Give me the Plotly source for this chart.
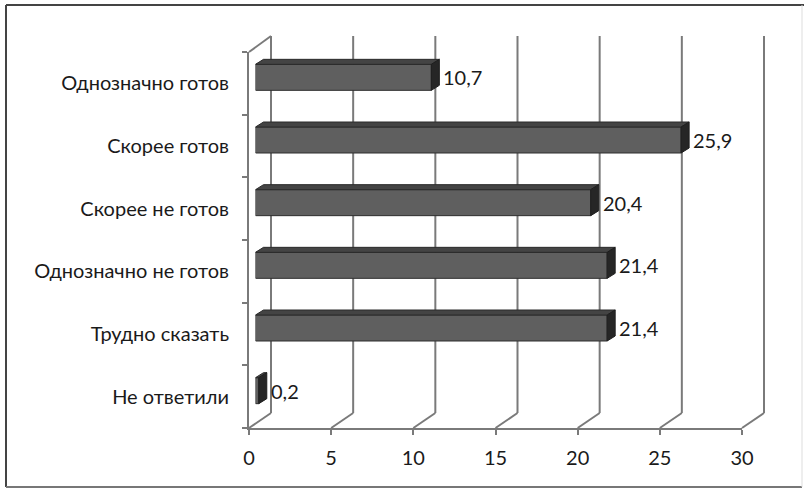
import plotly.graph_objects as go

# ---- data ----
categories = ["Не ответили", "Трудно сказать", "Однозначно не готов",
              "Скорее не готов", "Скорее готов", "Однозначно готов"]
values = [0.2, 21.4, 21.4, 20.4, 25.9, 10.7]
value_labels = ["0,2", "21,4", "21,4", "20,4", "25,9", "10,7"]
x_ticks = [0, 5, 10, 15, 20, 25, 30]
x_tick_labels = ["0", "5", "10", "15", "20", "25", "30"]

# ---- geometry (pixels) ----
W, H = 804, 488
XMAX = 30
FX0, FX1 = 249, 742          # front plane x for 0 and XMAX
FY0, FY1 = 428, 52           # front plane bottom / top
DX, DY = 22, 15              # depth offset of back wall
BDX, BDY = 6.5, 6            # offset of bar front faces
TDX, TDY = 8, 5              # bar thickness (3D faces)
BAR_W = 0.415
BACK_TOP = 36

def fx(p):
    return p / W

def fy(p):
    return 1 - p / H

def front_px(v):
    return FX0 + (FX1 - FX0) * v / XMAX

px_per_unit = (FX1 - FX0) / XMAX
px_per_cat = (FY0 - FY1) / len(categories)

FONT = "Lato, Calibri, Arial, sans-serif"
FS = 20
GRID = "#7a7a7a"

fig = go.Figure()

idx = list(range(len(categories)))
fig.add_trace(go.Bar(
    x=values, y=idx, orientation="h", width=BAR_W,
    marker=dict(color="#5f5f5f", line=dict(color="#2e2e2e", width=1)),
    xaxis="x2", yaxis="y2", hoverinfo="skip", showlegend=False,
))

# invisible trace to hold category axis
fig.add_trace(go.Scatter(x=[0] * len(categories), y=categories, mode="markers",
                         marker=dict(opacity=0), xaxis="x", yaxis="y",
                         hoverinfo="skip", showlegend=False))

shapes = []
# back wall gridlines + floor diagonals
for v in x_ticks:
    xf = front_px(v)
    xb = xf + DX
    shapes.append(dict(type="line", xref="paper", yref="paper",
                       x0=fx(xb), x1=fx(xb), y0=fy(FY0 - DY), y1=fy(BACK_TOP),
                       line=dict(color=GRID, width=2), layer="below"))
    shapes.append(dict(type="line", xref="paper", yref="paper",
                       x0=fx(xf), x1=fx(xb), y0=fy(FY0), y1=fy(FY0 - DY),
                       line=dict(color=GRID, width=2), layer="below"))
# left wall top diagonal
shapes.append(dict(type="line", xref="paper", yref="paper",
                   x0=fx(FX0), x1=fx(FX0 + DX), y0=fy(FY1), y1=fy(BACK_TOP),
                   line=dict(color=GRID, width=2), layer="below"))

# 3D faces of bars
dxu = TDX / px_per_unit
dyu = TDY / px_per_cat
for i, v in enumerate(values):
    yt = i + BAR_W / 2
    yb = i - BAR_W / 2
    shapes.append(dict(type="path", xref="x2", yref="y2",
                       path=f"M 0,{yt} L {v},{yt} L {v+dxu},{yt+dyu} L {dxu},{yt+dyu} Z",
                       fillcolor="#444444", line=dict(color="#2a2a2a", width=1)))
    shapes.append(dict(type="path", xref="x2", yref="y2",
                       path=f"M {v},{yt} L {v+dxu},{yt+dyu} L {v+dxu},{yb+dyu} L {v},{yb} Z",
                       fillcolor="#262626", line=dict(color="#1e1e1e", width=1)))

# outer frame
shapes.append(dict(type="line", xref="paper", yref="paper", x0=fx(6), x1=1, y0=fy(5), y1=fy(5),
                   line=dict(color="#444444", width=2)))
shapes.append(dict(type="line", xref="paper", yref="paper", x0=fx(6), x1=fx(6), y0=fy(5), y1=fy(487),
                   line=dict(color="#444444", width=2)))
shapes.append(dict(type="line", xref="paper", yref="paper", x0=fx(6), x1=fx(802), y0=fy(487), y1=fy(487),
                   line=dict(color="#777777", width=2)))
shapes.append(dict(type="line", xref="paper", yref="paper", x0=fx(802), x1=fx(802), y0=fy(5), y1=fy(487),
                   line=dict(color="#dddddd", width=1)))

annotations = []
for i, (v, lab) in enumerate(zip(values, value_labels)):
    annotations.append(dict(x=v, y=i, xref="x2", yref="y2", text=lab, showarrow=False,
                            xanchor="left", yanchor="middle", xshift=TDX + 2,
                            font=dict(family=FONT, size=FS, color="#1a1a1a")))

fig.update_layout(
    width=W, height=H, autosize=False,
    margin=dict(l=0, r=0, t=0, b=0, pad=0),
    paper_bgcolor="white", plot_bgcolor="rgba(0,0,0,0)",
    showlegend=False,
    shapes=shapes, annotations=annotations,
    xaxis=dict(domain=[fx(FX0), fx(FX1)], range=[0, XMAX], tickvals=x_ticks,
               ticktext=x_tick_labels, showline=True, linecolor=GRID, linewidth=2,
               ticks="outside", ticklen=5, tickwidth=2, tickcolor=GRID,
               showgrid=False, zeroline=False, anchor="y", ticklabelstandoff=6,
               automargin=False,
               tickfont=dict(family=FONT, size=FS, color="#1a1a1a")),
    yaxis=dict(domain=[fy(FY0), fy(FY1)], type="category", categoryorder="array",
               categoryarray=categories, range=[-0.5, len(categories) - 0.5],
               showline=True, linecolor=GRID, linewidth=2, ticks="outside",
               tickson="boundaries", ticklen=5, tickwidth=2, tickcolor=GRID,
               showgrid=False, zeroline=False, anchor="x", ticklabelstandoff=14,
               automargin=False,
               tickfont=dict(family=FONT, size=FS, color="#1a1a1a")),
    xaxis2=dict(domain=[fx(FX0 + BDX), fx(FX1 + BDX)], range=[0, XMAX], visible=False,
                anchor="y2", automargin=False),
    yaxis2=dict(domain=[fy(FY0 - BDY), fy(FY1 - BDY)], range=[-0.5, len(categories) - 0.5],
                visible=False, anchor="x2", automargin=False),
)

fig.write_html(
    "out.html",
    config={"displayModeBar": False, "responsive": False, "staticPlot": True},
    post_script="document.body.style.margin='0';document.body.style.overflow='hidden';",
)
